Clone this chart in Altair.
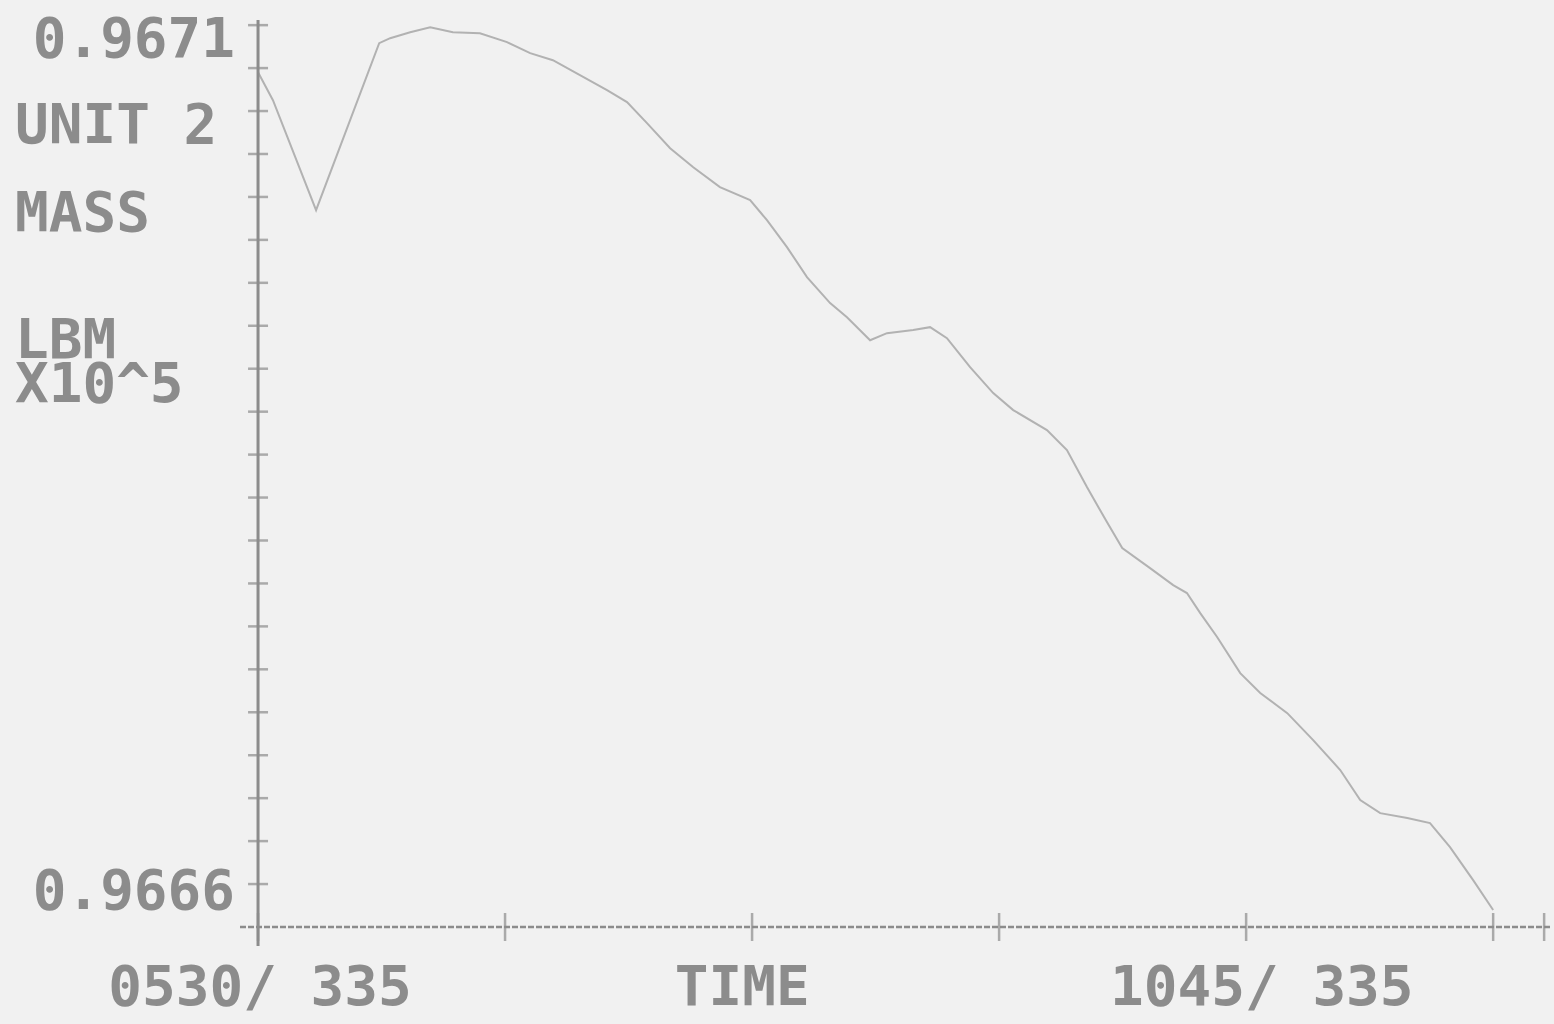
import altair as alt
import pandas as pd

# Elapsed minutes after 05:30 and the unit 2 inventory (LBM x10^5)
minutes = [0.0, 3.8, 14.8, 30.9, 33.7, 38.8, 43.9, 49.7, 56.6, 63.5, 69.4, 75.2,
           82.1, 89.0, 94.1, 99.2, 105.1, 111.0, 117.8, 125.5, 129.8, 134.9, 140.0,
           145.9, 150.2, 156.1, 160.4, 167.1, 171.4, 175.7, 181.6, 187.5, 192.6,
           201.2, 206.3, 211.4, 216.5, 220.4, 227.5, 233.4, 236.9, 240.3, 244.6,
           250.5, 255.6, 262.5, 269.1, 276.0, 281.1, 286.2, 293.1, 298.9, 304.0,
           309.9, 315.0]
mass = [0.9670726, 0.9670563, 0.9669923, 0.9670895, 0.9670924, 0.9670959, 0.9670988,
        0.9670959, 0.9670953, 0.9670901, 0.9670837, 0.9670796, 0.9670709, 0.9670622,
        0.9670552, 0.9670430, 0.9670284, 0.9670173, 0.9670057, 0.9669981, 0.9669865,
        0.9669708, 0.9669533, 0.9669382, 0.9669300, 0.9669166, 0.9669207, 0.9669225,
        0.9669242, 0.9669178, 0.9669009, 0.9668858, 0.9668759, 0.9668643, 0.9668526,
        0.9668311, 0.9668107, 0.9667956, 0.9667839, 0.9667740, 0.9667694, 0.9667577,
        0.9667438, 0.9667228, 0.9667112, 0.9666995, 0.9666838, 0.9666664, 0.9666489,
        0.9666413, 0.9666384, 0.9666355, 0.9666215, 0.9666023, 0.9665849]

y_tick_values = [0.966600, 0.966625, 0.966650, 0.966675, 0.966700, 0.966725, 0.966750,
                 0.966775, 0.966800, 0.966825, 0.966850, 0.966875, 0.966900, 0.966925,
                 0.966950, 0.966975, 0.967000, 0.967025, 0.967050, 0.967075, 0.967100]
y_label_values = [0.9666, 0.9671]
y_label_texts = ["0.9666", "0.9671"]
y_label_drop = [8, 15]
x_tick_values = [0, 63, 126, 189, 252, 315, 328]

left_titles = ["UNIT 2", "MASS", "LBM\nX10^5"]
left_title_rows = [106, 194, 321]
bottom_texts = ["0530/ 335", "TIME", "1045/ 335"]
bottom_text_minutes = [0.5, 123.5, 256.0]

X_DOMAIN = [-4.6, 329.5]
Y_DOMAIN = [0.966575, 0.967103]
Y_BASE = 0.966575

BG = "#f1f1f1"
INK = "#8c8c8c"
TRACE = "#b2b2b2"
FONT = "DejaVu Sans Mono"
FS = 56

xs = alt.Scale(domain=X_DOMAIN, nice=False, zero=False)
ys = alt.Scale(domain=Y_DOMAIN, nice=False, zero=False)

df = pd.DataFrame({"minutes": minutes, "mass": mass})

trace = alt.Chart(df).mark_line(color=TRACE, strokeWidth=2).encode(
    x=alt.X("minutes:Q", scale=xs, axis=None),
    y=alt.Y("mass:Q", scale=ys, axis=None),
)

# vertical axis line, running slightly below the time axis
v_axis = alt.Chart(pd.DataFrame({"x": [0.0], "top": [0.967103], "bottom": [0.966564]})).mark_rule(
    color=INK, strokeWidth=3
).encode(
    x=alt.X("x:Q", axis=None),
    y=alt.Y("top:Q", axis=None),
    y2="bottom:Q",
)

# time axis line
h_axis = alt.Chart(pd.DataFrame({"x": [X_DOMAIN[0]], "x2": [X_DOMAIN[1]], "y": [Y_BASE]})).mark_rule(
    color=INK, strokeWidth=2.5, strokeDash=[6, 2]
).encode(
    x=alt.X("x:Q", axis=None),
    x2="x2:Q",
    y=alt.Y("y:Q", axis=None),
)

y_ticks = alt.Chart(pd.DataFrame({"v": y_tick_values, "x": [0.0] * len(y_tick_values)})).mark_tick(
    orient="horizontal", size=20, thickness=2.5, color=INK
).encode(
    x=alt.X("x:Q", axis=None),
    y=alt.Y("v:Q", axis=None),
)

x_ticks = alt.Chart(pd.DataFrame({"t": x_tick_values, "y": [Y_BASE] * len(x_tick_values)})).mark_tick(
    orient="vertical", size=28, thickness=2.5, color=INK
).encode(
    x=alt.X("t:Q", axis=None),
    y=alt.Y("y:Q", axis=None),
)

# scale end labels on the mass axis
y_label_layers = [
    alt.Chart(pd.DataFrame({"v": [v], "label": [s]})).mark_text(
        font=FONT, fontSize=FS, fontWeight="bold", color=INK, align="right",
        baseline="middle", dy=drop
    ).encode(text="label:N", x=alt.value(-5), y=alt.Y("v:Q", axis=None))
    for v, s, drop in zip(y_label_values, y_label_texts, y_label_drop)
]

title_layers = [
    alt.Chart(pd.DataFrame({"label": [label]})).mark_text(
        font=FONT, fontSize=FS, fontWeight="bold", color=INK, align="left",
        baseline="middle", lineBreak="\n", lineHeight=44
    ).encode(text="label:N", x=alt.value(-225), y=alt.value(row))
    for label, row in zip(left_titles, left_title_rows)
]

bottom = alt.Chart(pd.DataFrame({"label": bottom_texts, "t": bottom_text_minutes})).mark_text(
    font=FONT, fontSize=FS, fontWeight="bold", color=INK, align="center", baseline="middle"
).encode(
    text="label:N",
    x=alt.X("t:Q", axis=None),
    y=alt.value(968),
)

chart = alt.layer(
    trace, h_axis, v_axis, y_ticks, x_ticks, bottom, *y_label_layers, *title_layers
).properties(
    width=1310,
    height=907,
    background=BG,
    padding={"left": 240, "top": 20, "right": 4, "bottom": 97},
    autosize=alt.AutoSizeParams(type="none"),
).configure_view(stroke=None)

chart.save("out.html", embed_options={"renderer": "svg", "actions": False})
